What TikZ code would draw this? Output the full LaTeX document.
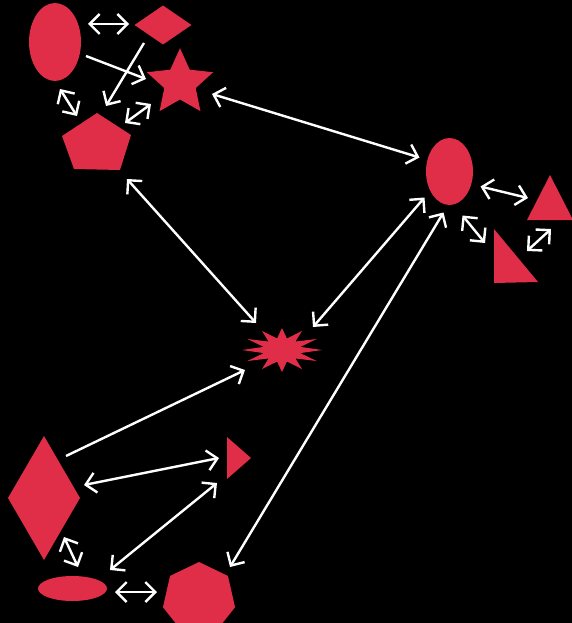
\documentclass[tikz,border=0pt]{standalone}
\usetikzlibrary{shapes.geometric,arrows.meta,calc}
\definecolor{shp}{RGB}{224,45,72}
\begin{document}
\begin{tikzpicture}[x=1pt,y=-1pt,
  shapefill/.style={fill=shp,draw=none},
  ellnode/.style={shape=ellipse,fill=shp,draw=none,inner sep=0pt,outer sep=0pt},
  dianode/.style={shape=diamond,fill=shp,draw=none,inner sep=0pt,outer sep=0pt},
  link/.style={draw=white,line width=2.4pt,{Straight Barb[length=10pt,width=20pt]}-{Straight Barb[length=10pt,width=20pt]}},
  onelink/.style={draw=white,line width=2.4pt,-{Straight Barb[length=10pt,width=20pt]}}]
\useasboundingbox (0,0) rectangle (572,623);
\fill[black] (0,0) rectangle (572,623);
\clip (0,0) rectangle (572,623);

% ---- nodes ----
\node[ellnode,minimum width=52pt,minimum height=78pt] (e1) at (55,42) {};
\node[dianode,minimum width=57pt,minimum height=39pt] (d1) at (163,25) {};
\coordinate (s1) at (180,83);
\fill[shapefill] ($(s1)+(90:34.8pt)$) \foreach \k in {0,...,4}{ -- ($(s1)+({126+72*\k}:16.5pt)$) -- ($(s1)+({162+72*\k}:34.8pt)$) } -- cycle;
\coordinate (p1) at (97,145);
\fill[shapefill] (97,113) -- (131,135) -- (120,170) -- (74,169) -- (62,136) -- cycle;
\node[ellnode,minimum width=47pt,minimum height=67pt] (e2) at (449.5,171.5) {};
\coordinate (t1) at (550,205);
\fill[shapefill] (550,175) -- (573,220) -- (527,220) -- cycle;
\coordinate (t2) at (509,265);
\fill[shapefill] (494,229) -- (538,282) -- (494,283) -- cycle;
\coordinate (sb) at (282,350);
\fill[shapefill] ($(sb)+(0:40pt and 22pt)$) \foreach \k in {0,...,11}{ -- ($(sb)+({15+30*\k}:19pt and 12pt)$) -- ($(sb)+({30+30*\k}:40pt and 22pt)$) } -- cycle;
\node[dianode,minimum width=72pt,minimum height=124pt] (D2) at (44,498) {};
\coordinate (t3) at (235,458);
\fill[shapefill] (227,437) -- (251,458) -- (227,479) -- cycle;
\node[ellnode,minimum width=69pt,minimum height=25pt] (e3) at (72.5,588.5) {};
\coordinate (h1) at (199,599);
\fill[shapefill] ($(h1)+(90:37pt)$) \foreach \k in {1,...,6}{ -- ($(h1)+({90+51.4286*\k}:37pt)$) } -- cycle;

% ---- connectors ----
\draw[link] ($(e1)+(33,-18)$) -- ($(d1)+(-34,-1)$);
\draw[onelink] ($(e1)+(31,14)$) -- ($(s1)+(-34,-4)$);
\draw[onelink] ($(d1)+(-19,18)$) -- ($(p1)+(9,-39)$);
\draw[link] ($(e1)+(5,47)$) -- ($(p1)+(-20,-29)$);
\draw[link] ($(p1)+(28,-22)$) -- ($(s1)+(-29,21)$);
\draw[link] ($(s1)+(32,11)$) -- ($(e2)+(-30,-14)$);
\draw[link] ($(e2)+(31,15)$) -- ($(t1)+(-22,-7)$);
\draw[link] ($(e2)+(13,44)$) -- ($(t2)+(-24,-22)$);
\draw[link] ($(t1)+(1,24)$) -- ($(t2)+(18,-14)$);
\draw[link] ($(p1)+(30,34)$) -- ($(sb)+(-26,-27)$);
\draw[link] ($(e2)+(-25,26)$) -- ($(sb)+(31,-23)$);
\draw[link] ($(e2)+(-6,41)$) -- ($(h1)+(31,-32)$);
\draw[onelink] ($(D2)+(22,-42)$) -- ($(sb)+(-37,20)$);
\draw[link] ($(D2)+(40,-13)$) -- ($(t3)+(-16,0)$);
\draw[link] ($(t3)+(-18,25)$) -- ($(e3)+(37.5,-18.5)$);
\draw[link] ($(D2)+(20,39)$) -- ($(e3)+(5.5,-21.5)$);
\draw[link] ($(e3)+(42.5,3.5)$) -- ($(h1)+(-42,-7)$);
\end{tikzpicture}
\end{document}
